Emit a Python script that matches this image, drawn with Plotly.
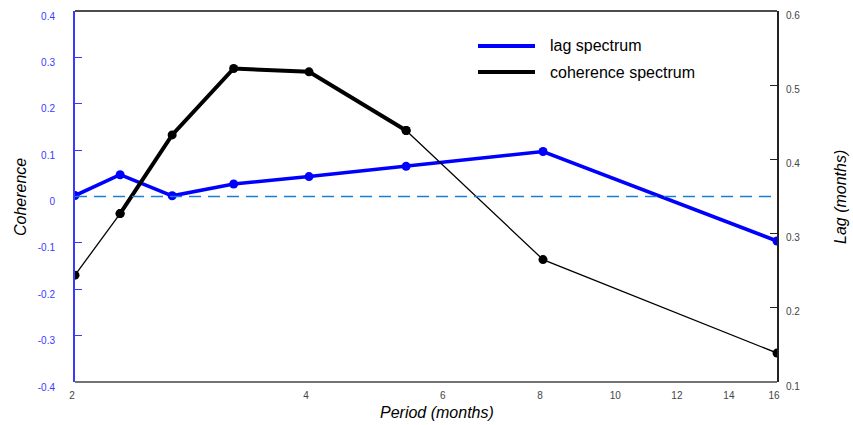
import math
import plotly.graph_objects as go

# ---- data ----
period = [2.0, 2.286, 2.667, 3.2, 4.0, 5.333, 8.0, 16.0]
lag_spectrum = [0.002, 0.047, 0.0015, 0.027, 0.043, 0.065, 0.097, -0.096]        # left axis
coherence_spectrum = [0.244, 0.327, 0.433, 0.5225, 0.518, 0.439, 0.265, 0.139]   # right axis
sig_start, sig_end = 1, 5   # thick (significant) part of coherence spectrum

x_tickvals = [2, 4, 6, 8, 10, 12, 14, 16]
x_ticktext = ["2", "4", "6", "8", "10", "12", "14", "16"]
x_minor = [2.5, 3, 3.5, 4.5, 5, 5.5, 6.5, 7, 7.5, 8.5, 9, 9.5, 10.5, 11, 11.5,
           12.5, 13, 13.5, 14.5, 15, 15.5]
yl_tickvals = [-0.4, -0.3, -0.2, -0.1, 0, 0.1, 0.2, 0.3, 0.4]
yl_ticktext = ["-0.4", "-0.3", "-0.2", "-0.1", "0", "0.1", "0.2", "0.3", "0.4"]
yr_tickvals = [0.1, 0.2, 0.3, 0.4, 0.5, 0.6]
yr_ticktext = ["0.1", "0.2", "0.3", "0.4", "0.5", "0.6"]

BLUE = "#0000ff"
AXBLUE = "#3a3aff"
FONT = "Liberation Sans"
L, R, T, B = 75, 777, 11, 382
W, H = 853, 425
PW, PH = R - L, B - T
XR = [math.log10(2), math.log10(16)]

fig = go.Figure()

fig.add_trace(go.Scatter(
    x=period, y=lag_spectrum, mode="lines+markers",
    line=dict(color=BLUE, width=3.6), marker=dict(color=BLUE, size=9),
    name="lag spectrum", showlegend=False, xaxis="x", yaxis="y"))

# thin parts of coherence spectrum
fig.add_trace(go.Scatter(
    x=period[:sig_start + 1], y=coherence_spectrum[:sig_start + 1], mode="lines+markers",
    line=dict(color="black", width=1.3), marker=dict(color="black", size=9),
    showlegend=False, xaxis="x", yaxis="y2"))
fig.add_trace(go.Scatter(
    x=period[sig_end:], y=coherence_spectrum[sig_end:], mode="lines+markers",
    line=dict(color="black", width=1.3), marker=dict(color="black", size=9),
    showlegend=False, xaxis="x", yaxis="y2"))
# thick part
fig.add_trace(go.Scatter(
    x=period[sig_start:sig_end + 1], y=coherence_spectrum[sig_start:sig_end + 1],
    mode="lines+markers",
    line=dict(color="black", width=4), marker=dict(color="black", size=9),
    name="coherence spectrum", showlegend=False, xaxis="x", yaxis="y2"))

# zero reference line
fig.add_shape(type="line", xref="paper", x0=0, x1=1, yref="y", y0=0, y1=0,
              line=dict(color="#1a7fd4", width=1.5, dash="12px,7px"), layer="above")

# frame (top / bottom) and x ticks on both sides
fig.add_shape(type="line", xref="paper", yref="paper", x0=0, x1=1, y0=1, y1=1,
              line=dict(color="#111", width=1.5), layer="above")
fig.add_shape(type="line", xref="paper", yref="paper", x0=0, x1=1, y0=0, y1=0,
              line=dict(color="#444", width=1.5), layer="above")
for vals, ln in [(x_tickvals, 8), (x_minor, 4)]:
    for v in vals:
        lx = math.log10(v)
        fig.add_shape(type="line", xref="x", yref="paper", x0=lx, x1=lx,
                      y0=0, y1=ln / PH, line=dict(color="#222", width=1), layer="above")
        fig.add_shape(type="line", xref="x", yref="paper", x0=lx, x1=lx,
                      y0=1, y1=1 - ln / PH, line=dict(color="#222", width=1), layer="above")

# manual legend
legend_items = [("lag spectrum", BLUE, 46), ("coherence spectrum", "black", 72)]
for label, col, py in legend_items:
    yy = (B - py) / PH
    fig.add_shape(type="line", xref="paper", yref="paper",
                  x0=(478 - L) / PW, x1=(535 - L) / PW, y0=yy, y1=yy,
                  line=dict(color=col, width=4))
    fig.add_annotation(xref="paper", yref="paper", x=(548 - L) / PW, y=yy,
                       text=label, showarrow=False, xanchor="left", yanchor="middle",
                       font=dict(family=FONT, size=16, color="black"))

# axis titles
fig.add_annotation(xref="paper", yref="paper", x=(437 - L) / PW, y=(B - 412) / PH,
                   text="<i>Period (months)</i>", showarrow=False,
                   xanchor="center", yanchor="middle",
                   font=dict(family=FONT, size=16, color="black"))
fig.add_annotation(xref="paper", yref="paper", x=(20 - L) / PW, y=(B - 197) / PH,
                   text="<i>Coherence</i>", showarrow=False, textangle=-90,
                   xanchor="center", yanchor="middle",
                   font=dict(family=FONT, size=16, color="black"))
fig.add_annotation(xref="paper", yref="paper", x=(840 - L) / PW, y=(B - 197) / PH,
                   text="<i>Lag (months)</i>", showarrow=False, textangle=-90,
                   xanchor="center", yanchor="middle",
                   font=dict(family=FONT, size=16, color="black"))

fig.update_layout(
    width=W, height=H,
    margin=dict(l=L, r=W - R, t=T, b=H - B),
    paper_bgcolor="white", plot_bgcolor="white",
    font=dict(family=FONT, size=10, color="#444"),
    xaxis=dict(
        type="log", range=XR, showgrid=False, zeroline=False, automargin=False,
        tickvals=x_tickvals, ticktext=x_ticktext, ticks="", showline=False,
        tickfont=dict(family=FONT, size=10, color="#444"),
        ticklabelshift=-3, ticklabelstandoff=6,
    ),
    yaxis=dict(
        range=[-0.4, 0.4], tickvals=yl_tickvals, ticktext=yl_ticktext,
        ticks="inside", ticklen=7, tickcolor=AXBLUE, tickwidth=1,
        showline=True, linecolor=AXBLUE, linewidth=2,
        showgrid=False, zeroline=False, automargin=False,
        tickfont=dict(family=FONT, size=10, color=AXBLUE),
        ticklabelstandoff=16, ticklabelshift=5,
    ),
    yaxis2=dict(
        range=[0.1, 0.6], tickvals=yr_tickvals, ticktext=yr_ticktext,
        overlaying="y", side="right",
        ticks="inside", ticklen=7, tickcolor="#222", tickwidth=1,
        showline=True, linecolor="#222", linewidth=2,
        showgrid=False, zeroline=False, automargin=False,
        tickfont=dict(family=FONT, size=10, color="#444"),
        ticklabelstandoff=5, ticklabelshift=4,
    ),
)

fig.write_html("out.html", config={"displayModeBar": False},
               post_script="document.body.style.margin='0';")
